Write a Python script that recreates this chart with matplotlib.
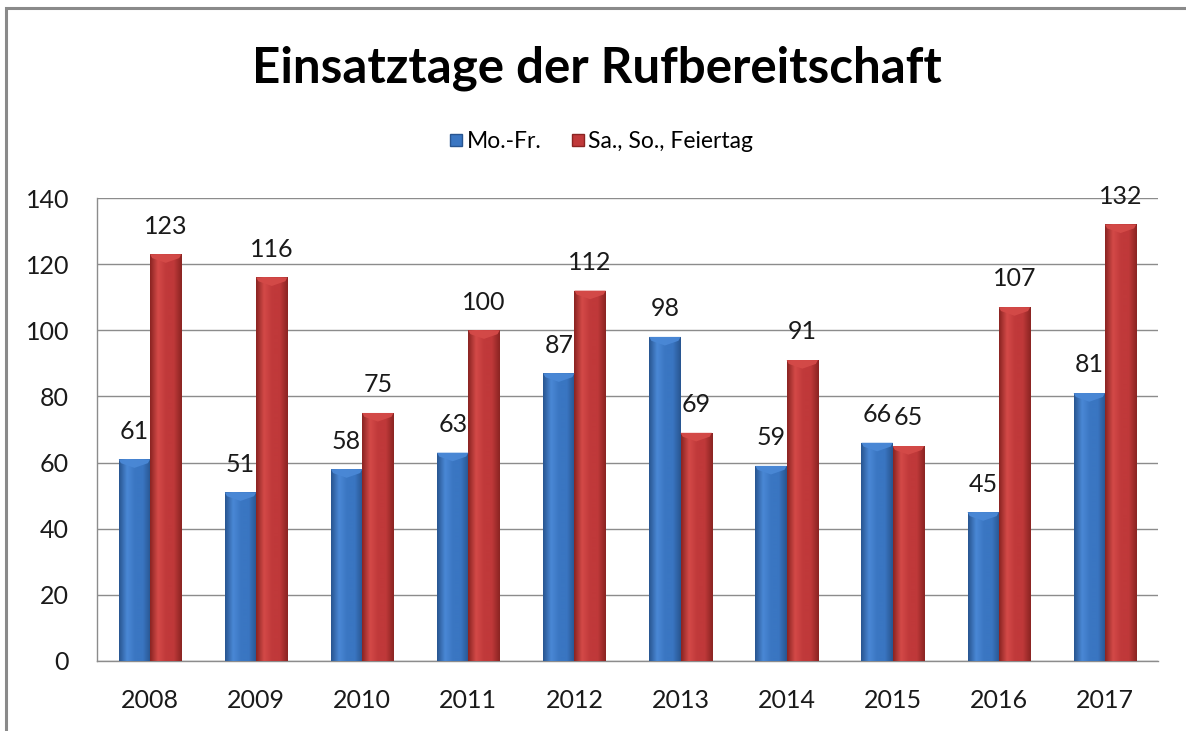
import matplotlib
matplotlib.use("Agg")
import matplotlib.pyplot as plt
import numpy as np
from matplotlib.colors import LinearSegmentedColormap
from matplotlib.patches import Polygon, Rectangle
from matplotlib.lines import Line2D

plt.rcParams['font.family'] = ['Lato', 'DejaVu Sans']

# data
years = ["2008", "2009", "2010", "2011", "2012", "2013", "2014", "2015", "2016", "2017"]
weekday = [61, 51, 58, 63, 87, 98, 59, 66, 45, 81]
weekend = [123, 116, 75, 100, 112, 69, 91, 65, 107, 132]
series_names = ["Mo.-Fr.", "Sa., So., Feiertag"]

TITLE = "Einsatztage der Rufbereitschaft"

# colours: edge, mid, light for the fake cylinder shading
BLUE = ["#285590", "#3a76c2", "#4a88d6"]
RED = ["#8a2422", "#c0393a", "#d44a48"]
BAR_W = 0.295
BEVEL = 2.6

fig = plt.figure(figsize=(11.86, 7.31), dpi=100)
ax = fig.add_axes([97 / 1186, 70 / 731, 1061 / 1186, 463 / 731])

x = np.arange(len(years))


def shaded_bars(xpos, vals, cols):
    bars = ax.bar(xpos, vals, BAR_W, color=cols[1], zorder=2, linewidth=0)
    cmap = LinearSegmentedColormap.from_list("c", [cols[0], cols[2], cols[1], cols[1], cols[0]])
    grad = np.linspace(0, 1, 64).reshape(1, -1)
    for b in bars:
        x0 = b.get_x()
        x1 = x0 + b.get_width()
        h = b.get_height()
        im = ax.imshow(grad, cmap=cmap, extent=(x0, x1, 0, h), aspect='auto',
                       zorder=3, interpolation='bicubic')
        im.set_clip_path(b)
        # light bevel on top of the bar
        xc = (x0 + x1) / 2
        tri = Polygon([(x0, h), (x1, h), (x1 - 0.02, h - BEVEL * 0.45),
                       (xc, h - BEVEL), (x0 + 0.02, h - BEVEL * 0.45)],
                      closed=True, facecolor=cols[2], edgecolor='none',
                      alpha=0.95, zorder=4)
        ax.add_patch(tri)
        ax.annotate(str(int(h)), (xc, h), xytext=(0, 12), textcoords='offset points',
                    ha='center', va='bottom', fontsize=18, color='#1a1a1a', zorder=5)
    return bars


shaded_bars(x - BAR_W / 2, weekday, BLUE)
shaded_bars(x + BAR_W / 2, weekend, RED)

ax.set_xlim(-0.5, len(years) - 0.5)
ax.set_ylim(0, 140)
ax.set_yticks(range(0, 141, 20))
ax.set_xticks(x)
ax.set_xticklabels(years)
ax.tick_params(axis='both', length=0, labelsize=18, colors='#1a1a1a')
ax.tick_params(axis='x', pad=20)
ax.tick_params(axis='y', pad=20)
ax.yaxis.grid(True, color='#8c8c8c', linewidth=1)
ax.set_axisbelow(True)
for s in ['top', 'right']:
    ax.spines[s].set_visible(False)
for s in ['left', 'bottom']:
    ax.spines[s].set_color('#8c8c8c')
    ax.spines[s].set_linewidth(1)

fig.text(0.503, 0.907, TITLE, ha='center', va='center', fontsize=35.5,
         fontweight='bold', color='#000000')

handles = [Line2D([], [], marker='s', linestyle='none', markersize=9,
                  markerfacecolor=BLUE[1], markeredgecolor=BLUE[0]),
           Line2D([], [], marker='s', linestyle='none', markersize=9,
                  markerfacecolor=RED[1], markeredgecolor=RED[0])]
fig.legend(handles, series_names, loc='center', bbox_to_anchor=(0.506, 0.806),
           ncol=2, frameon=False, fontsize=16.5, handletextpad=0.05,
           columnspacing=1.2, handlelength=0.8)

# outer chart border (only top and left are inside the crop)
fig.patches.append(Rectangle((6 / 1186, -0.1), 1.2, (731 - 8) / 731 + 0.1,
                             transform=fig.transFigure, fill=False,
                             edgecolor='#8a8a8a', linewidth=2.2))

fig.savefig("out.png", dpi=100)
